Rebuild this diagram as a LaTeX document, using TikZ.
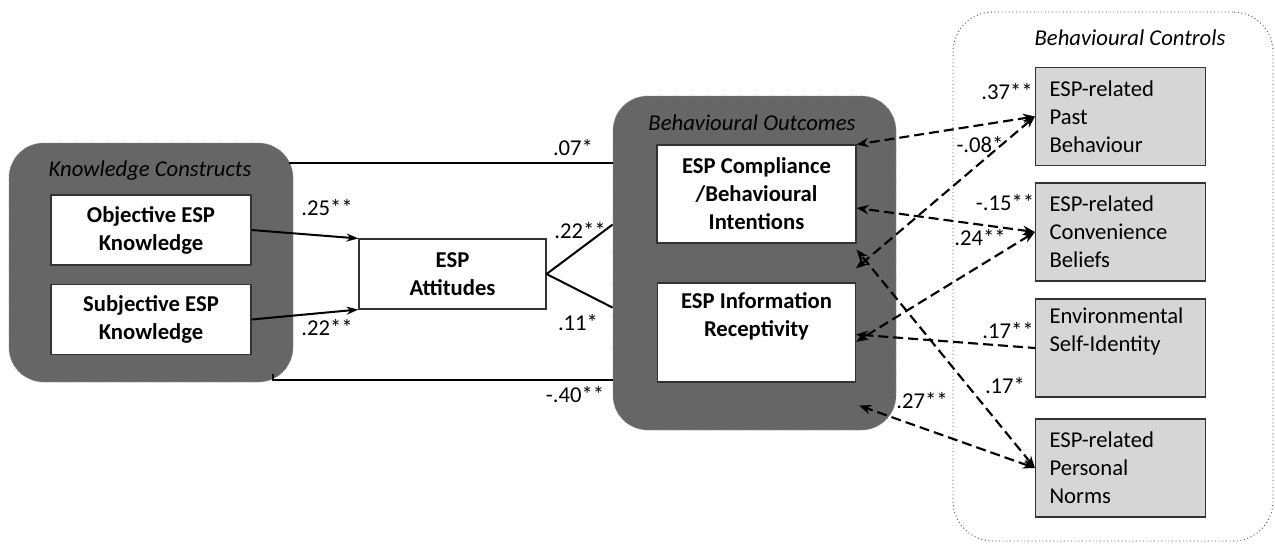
\documentclass[tikz,border=0pt]{standalone}
\usepackage{fontspec}
\setmainfont{Carlito}
\usetikzlibrary{arrows.meta,calc}
\definecolor{grpgray}{RGB}{102,102,102}
\definecolor{ctrlgray}{RGB}{214,214,214}

\begin{document}
\begin{tikzpicture}[x=0.75pt,y=0.75pt,yscale=-1,xscale=1,
  font=\fontsize{17}{21}\selectfont,
  group/.style={draw=black!45, densely dotted, line width=0.6pt, fill=grpgray, rounded corners=26pt, inner sep=0pt},
  ctrlgroup/.style={draw=black!70, dotted, line width=0.7pt, fill=white, rounded corners=30pt, inner sep=0pt},
  grplabel/.style={font=\fontsize{17}{21}\selectfont\itshape, inner sep=0.75pt},
  box/.style={draw=black!80, line width=0.8pt, fill=white, align=center, font=\fontsize{17}{21}\selectfont\bfseries, inner sep=2pt},
  ctrlbox/.style={draw=black!80, line width=0.8pt, fill=ctrlgray, align=left, text width=106.5pt, inner xsep=10.5pt, inner ysep=3pt, minimum height=73.5pt},
  coef/.style={inner sep=0.75pt},
  link/.style={line width=1.5pt},
  twoway/.style={line width=1.6pt, dash pattern=on 7.5pt off 3.75pt, {Stealth[length=9pt,width=7pt]}-{Stealth[length=9pt,width=7pt]}},
  oneway/.style={line width=1.6pt, dash pattern=on 7.5pt off 3.75pt, {Stealth[length=9pt,width=7pt]}-}]
\useasboundingbox (0,0) rectangle (1275,544);
% Group boxes
\draw (1113,276.5) node [ctrlgroup, minimum width=240pt, minimum height=396.75pt] (bc) {};
\draw (151,262.5) node [group, minimum width=213pt, minimum height=179.25pt] (kc) {};
\draw (754.5,263) node [group, minimum width=212.25pt, minimum height=250.5pt] (bo) {};
% Group titles
\draw (150,171) node [grplabel] (kclab) {Knowledge Constructs};
\draw (752,123) node [grplabel] (bolab) {Behavioural Outcomes};
\draw (1130,38) node [grplabel] (bclab) {Behavioural Controls};
% Knowledge constructs
\draw (151,230) node [box, minimum width=150pt, minimum height=52.5pt] (obj) {Objective ESP\\Knowledge};
\draw (151,319.5) node [box, minimum width=150pt, minimum height=52.5pt] (subj) {Subjective ESP\\Knowledge};
% Attitudes
\draw (452.5,274) node [box, minimum width=140.25pt, minimum height=52.5pt] (att) {ESP\\Attitudes};
% Outcomes
\draw (756.5,194) node [box, minimum width=149.25pt, minimum height=73.5pt] (comp) {ESP Compliance\\/Behavioural\\Intentions};
\draw (756.5,332.5) node [box, minimum width=148.5pt, minimum height=74.25pt] (rec) {ESP Information\\Receptivity\\\strut};
% Controls
\draw (1120.5,116.5) node [ctrlbox] (pb) {ESP-related\\Past\\Behaviour};
\draw (1120.5,232) node [ctrlbox] (cb) {ESP-related\\Convenience\\Beliefs};
\draw (1120.5,348) node [ctrlbox] (ei) {Environmental\\Self-Identity\\\strut};
\draw (1120.5,468) node [ctrlbox] (pn) {ESP-related\\Personal\\Norms};
% Solid paths
\draw [link, -{Stealth[length=9pt,width=6pt]}] (obj.east) -- (att.north west);
\draw [link, -{Stealth[length=9pt,width=6pt]}] (subj.east) -- (att.south west);
\draw [link] (att.east) -- ($(bo.north west)+(0,129)$);
\draw [link] (att.east) -- ($(bo.north west)+(0,212)$);
\draw [link] ($(kc.north east)+(-4,20)$) -- ($(bo.north west)+(0,67)$);
\draw [link] ($(kc.south east)+(-20,-8)$) |- ($(bo.north west)+(0,284)$);
% Dashed paths
\draw [twoway] (pb.west) -- (comp.north east);
\draw [twoway] (pb.west) -- ([yshift=-10.5pt]rec.north east);
\draw [twoway] (cb.west) -- ([yshift=10.5pt]comp.east);
\draw [twoway] (cb.west) -- ([yshift=7pt]rec.east);
\draw [oneway] ([yshift=1.5pt]rec.east) -- (ei.west);
\draw [twoway] (pn.west) -- ([yshift=4.5pt]comp.south east);
\draw [twoway] (pn.west) -- ($(rec.south east)+(3,23)$);
% Coefficients
\draw (573,148) node [coef] (c07) {.07*};
\draw (327,208) node [coef] (c25) {.25**};
\draw (327,328) node [coef] (c22a) {.22**};
\draw (580,231) node [coef] (c22b) {.22**};
\draw (578,323) node [coef] (c11) {.11*};
\draw (575,395) node [coef] (c40) {-.40**};
\draw (1007,92) node [coef] (c37) {.37**};
\draw (980,145) node [coef] (c08) {-.08*};
\draw (1005,203) node [coef] (c15) {-.15**};
\draw (980,238) node [coef] (c24) {.24**};
\draw (1008,331) node [coef] (c17a) {.17**};
\draw (1005,386) node [coef] (c17b) {.17*};
\draw (922,401) node [coef] (c27) {.27**};
\end{tikzpicture}
\end{document}
